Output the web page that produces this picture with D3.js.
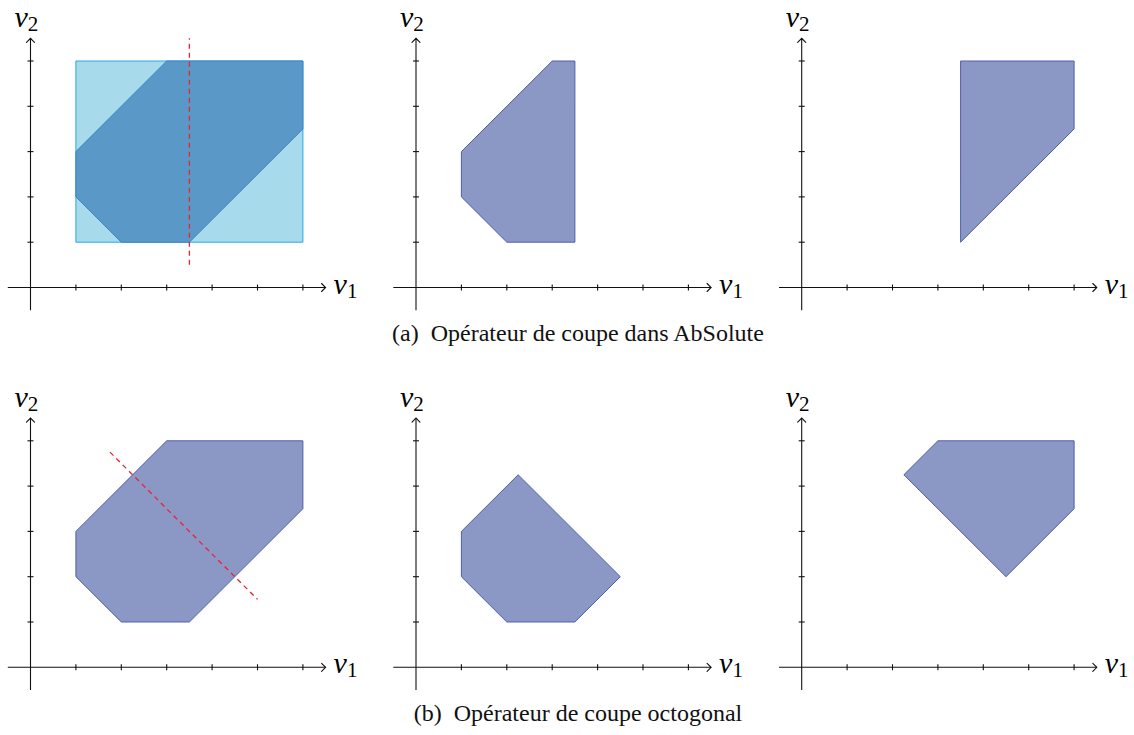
<!DOCTYPE html>
<html>
<head>
<meta charset="utf-8">
<script src="https://cdn.jsdelivr.net/npm/d3@7.9.0/dist/d3.min.js"></script>
<style>
  body { margin: 0; background: #fff; }
</style>
</head>
<body>
<svg id="chart" width="1134" height="735"></svg>
<script>
// ticks on the two axes
const xTicks = [1, 2, 3, 4, 5, 6];
const yTicks = [1, 2, 3, 4, 5];

// polygons (v1, v2)
const boxAbs = [[1, 1], [6, 1], [6, 5], [1, 5]];
const octagon = [[1, 2], [1, 3], [3, 5], [6, 5], [6, 3.5], [3.5, 1], [2, 1]];
const cutAbsLeft = [[1, 2], [1, 3], [3, 5], [3.5, 5], [3.5, 1], [2, 1]];
const cutAbsRight = [[3.5, 5], [6, 5], [6, 3.5], [3.5, 1]];
const cutOctLeft = [[1, 2], [1, 3], [2.25, 4.25], [4.5, 2], [3.5, 1], [2, 1]];
const cutOctRight = [[2.25, 4.25], [3, 5], [6, 5], [6, 3.5], [4.5, 2]];

// cutting lines
const cutLineAbs = [[3.5, 0.5], [3.5, 5.5]];
const cutLineOct = [[1.75, 4.75], [5, 1.5]];

const captions = ['(a)\u2002Opérateur de coupe dans AbSolute', '(b)\u2002Opérateur de coupe octogonal'];

const FONT = "'Liberation Serif', 'Times New Roman', serif";

const svg = d3.select('#chart');

const x = d3.scaleLinear().domain([0, 6]).range([0, 6 * 45.4]);
const y = d3.scaleLinear().domain([0, 5]).range([0, -5 * 45.3]);
const line = d3.line().x(d => x(d[0])).y(d => y(d[1]));
const poly = pts => line(pts) + 'Z';

const colX = [30.5, 416, 801.7];
const rowY = [287.5, 667.3];

const purple = { fill: '#8b98c6', stroke: '#5060aa' };

const panels = [
  { r: 0, c: 0, shapes: [
      { pts: boxAbs, fill: '#a7dbec', stroke: '#2aa8df' },
      { pts: octagon, fill: '#5a98c7', stroke: '#3a86c3' }],
    cut: cutLineAbs },
  { r: 0, c: 1, shapes: [{ pts: cutAbsLeft, ...purple }] },
  { r: 0, c: 2, shapes: [{ pts: cutAbsRight, ...purple }] },
  { r: 1, c: 0, shapes: [{ pts: octagon, ...purple }], cut: cutLineOct },
  { r: 1, c: 1, shapes: [{ pts: cutOctLeft, ...purple }] },
  { r: 1, c: 2, shapes: [{ pts: cutOctRight, ...purple }] }
];

panels.forEach(p => {
  const g = svg.append('g').attr('transform', `translate(${colX[p.c]},${rowY[p.r]})`);

  p.shapes.forEach(s => {
    g.append('path')
      .attr('d', poly(s.pts))
      .attr('fill', s.fill)
      .attr('stroke', s.stroke)
      .attr('stroke-width', 1)
      .attr('stroke-linejoin', 'round');
  });

  if (p.cut) {
    g.append('path')
      .attr('d', line(p.cut))
      .attr('fill', 'none')
      .attr('stroke', '#e8242c')
      .attr('stroke-width', 1.3)
      .attr('stroke-dasharray', '5,4');
  }

  // axes
  const ax = g.append('g').attr('stroke', '#111').attr('stroke-width', 1.1).attr('fill', 'none');
  ax.append('line').attr('x1', x(-0.5)).attr('x2', x(6.5)).attr('y1', 0).attr('y2', 0);
  ax.append('line').attr('x1', 0).attr('x2', 0).attr('y1', y(-0.5)).attr('y2', y(5.5));
  // arrow heads
  const xe = x(6.5), ye = y(5.5);
  ax.append('path').attr('d', `M${xe - 4},-4 L${xe},0 L${xe - 4},4`).attr('stroke-linecap', 'round');
  ax.append('path').attr('d', `M-4,${ye + 4} L0,${ye} L4,${ye + 4}`).attr('stroke-linecap', 'round');

  ax.selectAll('.xt').data(xTicks).join('line')
    .attr('x1', d => x(d)).attr('x2', d => x(d)).attr('y1', -3).attr('y2', 3);
  ax.selectAll('.yt').data(yTicks).join('line')
    .attr('y1', d => y(d)).attr('y2', d => y(d)).attr('x1', -3).attr('x2', 3);

  // labels
  const lx = g.append('text').attr('x', x(6.5) + 8).attr('y', 6)
    .attr('font-family', FONT).attr('font-size', 30);
  lx.append('tspan').attr('font-style', 'italic').text('v');
  lx.append('tspan').attr('font-size', 21).attr('dy', 4).text('1');

  const ly = g.append('text').attr('x', -16).attr('y', y(5.75))
    .attr('font-family', FONT).attr('font-size', 30);
  ly.append('tspan').attr('font-style', 'italic').text('v');
  ly.append('tspan').attr('font-size', 21).attr('dy', 4).text('2');
});

svg.selectAll('.caption').data(captions).join('text')
  .attr('class', 'caption')
  .attr('x', 578)
  .attr('y', (d, i) => [341, 721][i])
  .attr('text-anchor', 'middle')
  .attr('font-family', FONT)
  .attr('font-size', 24)
  .attr('fill', '#111')
  .text(d => d);
</script>
</body>
</html>
